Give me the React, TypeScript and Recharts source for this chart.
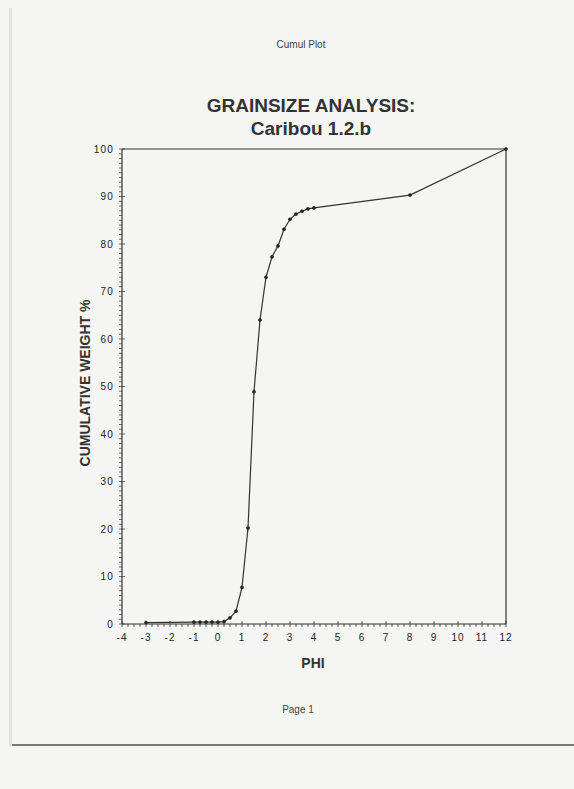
import React from "react";
import { LineChart, Line, XAxis, YAxis, ReferenceLine } from "recharts";

// phi class limits and cumulative weight %
const phi = [-3, -1, -0.75, -0.5, -0.25, 0, 0.25, 0.5, 0.75, 1, 1.25, 1.5, 1.75, 2, 2.25, 2.5, 2.75, 3, 3.25, 3.5, 3.75, 4, 8, 12];
const cumulative = [0.3, 0.4, 0.4, 0.4, 0.4, 0.4, 0.5, 1.3, 2.7, 7.7, 20.2, 48.9, 64.0, 73.0, 77.3, 79.6, 83.1, 85.2, 86.3, 86.9, 87.4, 87.6, 90.3, 100];

const xTicks: number[] = [];
for (let i = 0; i <= 64; i++) xTicks.push(-4 + i * 0.25);
const yTicks: number[] = [];
for (let i = 0; i <= 100; i++) yTicks.push(i);

const data = phi.map((p, i) => ({ phi: p, weight: cumulative[i] }));

const ink = "#333";
const font = "'Liberation Sans', Arial, Helvetica, sans-serif";

const XTick = (props: any) => {
  const { x, y, payload } = props;
  const v = payload.value;
  const major = Number.isInteger(v);
  return (
    <g>
      <line x1={x} x2={x} y1={y - (major ? 3 : 0)} y2={y + 3} stroke={ink} strokeWidth={0.8} />
      {major && (
        <text x={x} y={y + 17} textAnchor="middle" fontSize={10} fill="#222" fontFamily={font} letterSpacing={1}>
          {v}
        </text>
      )}
    </g>
  );
};

const YTick = (props: any) => {
  const { x, y, payload } = props;
  const v = payload.value;
  const major = v % 10 === 0;
  return (
    <g>
      <line x1={x - 3} x2={x + (major ? 3 : 0)} y1={y} y2={y} stroke={ink} strokeWidth={0.7} />
      {major && (
        <text x={x - 8} y={y + 3.5} textAnchor="end" fontSize={10} fill="#222" fontFamily={font} letterSpacing={1.2}>
          {v}
        </text>
      )}
    </g>
  );
};

export default function App() {
  return (
    <div style={{ position: "fixed", left: 0, top: 0, width: 574, height: 789, background: "#f5f5f3", fontFamily: font, overflow: "hidden" }}>
      <div style={{ position: "absolute", left: 9, top: 8, width: 3, height: 738, background: "#e2e2e0" }} />
      <div style={{ position: "absolute", left: 0, width: 602, top: 39, textAlign: "center", fontSize: 10, color: "#444" }}>Cumul Plot</div>
      <div style={{ position: "absolute", left: 0, width: 622, top: 94, textAlign: "center", fontSize: 19, fontWeight: "bold", color: "#333", lineHeight: "23px" }}>
        GRAINSIZE ANALYSIS:
        <br />
        Caribou 1.2.b
      </div>
      <LineChart
        width={574}
        height={789}
        data={data}
        margin={{ top: 149, right: 68, bottom: 135, left: 82 }}
        style={{ position: "absolute", left: 0, top: 0 }}
      >
        <XAxis
          dataKey="phi"
          type="number"
          domain={[-4, 12]}
          ticks={xTicks}
          interval={0}
          tick={<XTick />}
          tickLine={false}
          tickSize={0}
          tickMargin={0}
          axisLine={{ stroke: ink, strokeWidth: 1.2 }}
          height={30}
        />
        <YAxis
          type="number"
          domain={[0, 100]}
          ticks={yTicks}
          interval={0}
          tick={<YTick />}
          tickLine={false}
          tickSize={0}
          tickMargin={0}
          axisLine={{ stroke: ink, strokeWidth: 1.2 }}
          width={40}
        />
        <ReferenceLine y={100} stroke={ink} strokeWidth={1.2} />
        <ReferenceLine x={12} stroke={ink} strokeWidth={1.2} />
        <Line
          dataKey="weight"
          type="linear"
          stroke={ink}
          strokeWidth={1.2}
          dot={{ r: 1.6, fill: "#222", stroke: "#222", strokeWidth: 0.5 }}
          isAnimationActive={false}
        />
      </LineChart>
      <div style={{ position: "absolute", left: 0, width: 626, top: 655, textAlign: "center", fontSize: 14, fontWeight: "bold", color: "#333" }}>PHI</div>
      <div
        style={{
          position: "absolute",
          left: 85,
          top: 383,
          transform: "translate(-50%, -50%) rotate(-90deg)",
          whiteSpace: "nowrap",
          fontSize: 14,
          fontWeight: "bold",
          color: "#333",
        }}
      >
        CUMULATIVE WEIGHT %
      </div>
      <div style={{ position: "absolute", left: 0, width: 596, top: 704, textAlign: "center", fontSize: 10, color: "#444" }}>Page 1</div>
      <div style={{ position: "absolute", left: 12, right: 0, top: 744, height: 2, background: "#777" }} />
    </div>
  );
}
